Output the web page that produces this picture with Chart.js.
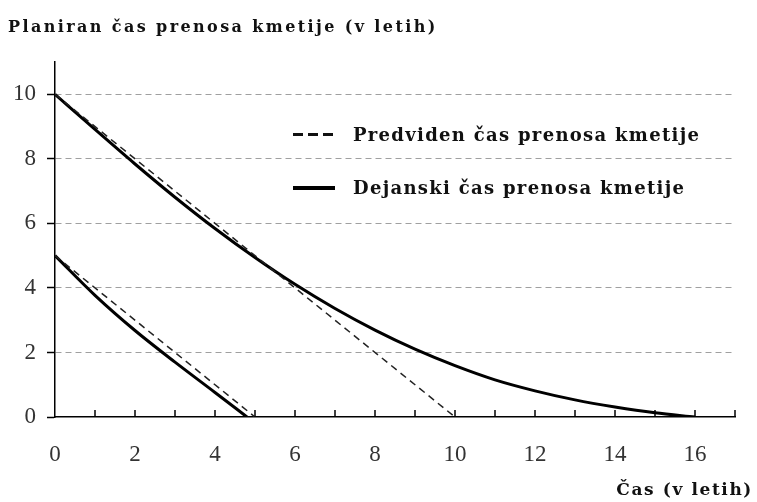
<!DOCTYPE html>
<html>
<head>
<meta charset="utf-8">
<script src="https://cdn.jsdelivr.net/npm/chart.js@4.4.0/dist/chart.umd.min.js"></script>
<style>
    body { margin: 0; background: #fff; }
    #wrap { position: relative; width: 757px; height: 502px; }
    .txt { position: absolute; font-family: "DejaVu Serif", serif; font-weight: bold; color: #111; white-space: nowrap; line-height: 1; }
    #title { left: 8px; top: 19px; font-size: 16px; letter-spacing: 2.4px; }
    #xTitle { right: 4px; top: 481px; font-size: 17px; letter-spacing: 1.6px; }
    .leg { position: absolute; left: 293px; height: 20px; }
    .leg .sym { position: absolute; left: 0; top: 8px; width: 42px; height: 3px; }
    .leg .lab { position: absolute; left: 60px; top: 1px; font-size: 18px; letter-spacing: 1.3px; }
</style>
</head>
<body>
<div id="wrap">
    <canvas id="chart"></canvas>
    <div class="txt" id="title">Planiran čas prenosa kmetije (v letih)</div>
    <div class="txt" id="xTitle">Čas (v letih)</div>
    <div id="legend"></div>
</div>
<script>
// Podatki odčitani s slike
const seriesNames = ['Predviden čas prenosa kmetije', 'Dejanski čas prenosa kmetije'];

// Predviden čas (črtkano)
const predictedHighX = [0, 10];
const predictedHighY = [10, 0];
const predictedLowX = [0, 5];
const predictedLowY = [5, 0];

// Dejanski čas (polna črta)
const actualHighX = [0, 1, 2, 3, 4, 5, 6, 7, 8, 9, 10, 11, 12, 13, 14, 15, 16];
const actualHighY = [10, 8.91, 7.84, 6.81, 5.84, 4.94, 4.11, 3.36, 2.69, 2.1, 1.59, 1.15, 0.81, 0.53, 0.31, 0.13, 0];
const actualLowX = [0, 1, 2, 3, 4, 4.8];
const actualLowY = [5, 3.77, 2.68, 1.7, 0.76, 0];

// Osi
const xMax = 17;
const yMax = 11;

function toPoints(xs, ys) {
    return xs.map((x, i) => ({ x: x, y: ys[i] }));
}

const dashedStyle = {
    borderColor: '#222',
    borderWidth: 1.5,
    borderDash: [7, 5],
    pointRadius: 0,
    fill: false
};
const solidStyle = {
    borderColor: '#000',
    borderWidth: 3,
    pointRadius: 0,
    fill: false,
    cubicInterpolationMode: 'monotone'
};

// Kratke oznake na osi x (navznoter)
const innerTicks = {
    id: 'innerTicks',
    afterDraw(chart) {
        const { ctx, chartArea } = chart;
        const x = chart.scales.x;
        ctx.save();
        ctx.strokeStyle = '#000';
        ctx.lineWidth = 1.5;
        x.ticks.forEach(t => {
            if (t.value === 0) return;
            const px = x.getPixelForValue(t.value);
            ctx.beginPath();
            ctx.moveTo(px, chartArea.bottom);
            ctx.lineTo(px, chartArea.bottom - 7);
            ctx.stroke();
        });
        ctx.restore();
    }
};

function buildLegend() {
    const legend = document.getElementById('legend');
    const tops = [125, 178];
    seriesNames.forEach((name, i) => {
        const row = document.createElement('div');
        row.className = 'leg';
        row.style.top = tops[i] + 'px';
        const sym = document.createElement('div');
        sym.className = 'sym';
        sym.style.background = i === 0
            ? 'repeating-linear-gradient(90deg, #111 0 10px, transparent 10px 15px)'
            : '#000';
        if (i === 1) sym.style.height = '4px';
        const lab = document.createElement('div');
        lab.className = 'txt lab';
        lab.textContent = name;
        row.appendChild(sym);
        row.appendChild(lab);
        legend.appendChild(row);
    });
}

function createChart() {
    const ctx = document.getElementById('chart').getContext('2d');
    return new Chart(ctx, {
        type: 'line',
        data: {
            datasets: [
                Object.assign({ label: seriesNames[0], data: toPoints(predictedHighX, predictedHighY) }, dashedStyle),
                Object.assign({ label: seriesNames[0], data: toPoints(predictedLowX, predictedLowY) }, dashedStyle),
                Object.assign({ label: seriesNames[1], data: toPoints(actualHighX, actualHighY) }, solidStyle),
                Object.assign({ label: seriesNames[1], data: toPoints(actualLowX, actualLowY) }, solidStyle)
            ]
        },
        options: {
            responsive: true,
            maintainAspectRatio: false,
            animation: false,
            layout: {
                padding: { top: 62, right: 22, left: 0, bottom: 0 }
            },
            scales: {
                x: {
                    type: 'linear',
                    min: 0,
                    max: xMax,
                    afterFit(scale) { scale.height = 85; },
                    grid: { display: false },
                    border: { display: true, color: '#000', width: 1.5 },
                    ticks: {
                        stepSize: 1,
                        autoSkip: false,
                        maxRotation: 0,
                        padding: 16,
                        color: '#333',
                        font: { family: "'Liberation Serif', 'Times New Roman', serif", size: 23 },
                        callback: v => (v % 2 === 0 && v <= 16) ? v : ''
                    }
                },
                y: {
                    min: 0,
                    max: yMax,
                    afterFit(scale) { scale.width = 55; },
                    grid: {
                        color: c => (c.tick && c.tick.value > 0 && c.tick.value <= 10) ? '#a0a0a0' : 'rgba(0,0,0,0)',
                        lineWidth: 1,
                        tickLength: 8,
                        tickWidth: 1.5,
                        tickColor: c => (c.tick && c.tick.value <= 10) ? '#000' : 'rgba(0,0,0,0)'
                    },
                    border: { display: true, color: '#000', width: 1.5, dash: [6, 4] },
                    ticks: {
                        stepSize: 2,
                        padding: 11,
                        color: '#333',
                        font: { family: "'Liberation Serif', 'Times New Roman', serif", size: 23 },
                        callback: v => v <= 10 ? v : ''
                    }
                }
            },
            plugins: {
                legend: { display: false },
                title: { display: false },
                tooltip: { enabled: false }
            }
        },
        plugins: [innerTicks]
    });
}

document.addEventListener('DOMContentLoaded', () => {
    buildLegend();
    createChart();
});
</script>
</body>
</html>
